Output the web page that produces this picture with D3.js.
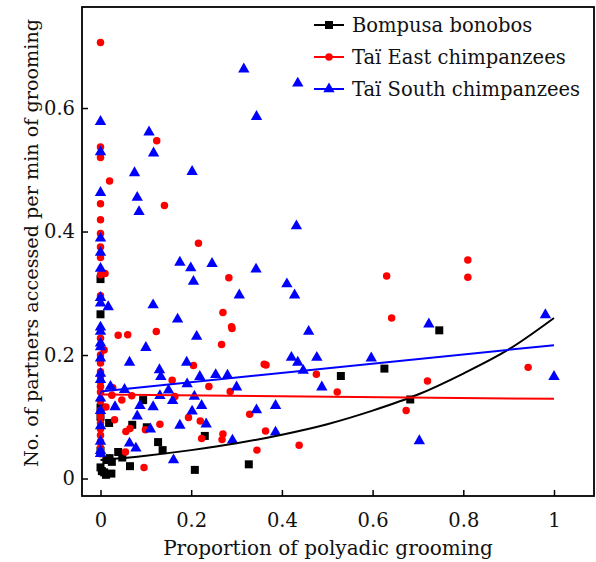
<!DOCTYPE html>
<html><head><meta charset="utf-8">
<script src="https://cdn.jsdelivr.net/npm/d3@7"></script>
<style>body{margin:0;background:#fff}svg{display:block}</style>
</head><body>
<svg id="c" width="596" height="562"></svg>
<script>
const xTicks = [0, 0.2, 0.4, 0.6, 0.8, 1];
const yTicks = [0, 0.2, 0.4, 0.6];
const seriesNames = ["Bompusa bonobos", "Taï East chimpanzees", "Taï South chimpanzees"];

const bonoboX = [0,0,0.747,0.626,0.530,0.683,0.327,0.208,0.230,0.127,0.137,0.094,0.019,0.070,0.102,0.065,0.039,0.048,0.020,0.025,0.013,0,0.008,0.024,0.012,0,0,0,0.003];
const bonoboY = [0.323,0.266,0.240,0.178,0.166,0.128,0.023,0.014,0.069,0.059,0.046,0.127,0.090,0.087,0.083,0.020,0.043,0.034,0.033,0.027,0.030,0.018,0.010,0.008,0.006,0.115,0.100,0.045,0.012];

const eastX = [0,0,0,0,0,0,0,0,0.010,0,0,0.008,0,0,0,0,0,0,0,0,0,0,0,0,0,0,0,0,0,
  0.020,0.124,0.141,0.216,0.039,0.060,0.123,0.205,0.027,0.025,0.047,0.069,0.012,0.031,0.158,0.239,0.164,0.194,0.220,0.131,0.099,0.056,0.065,0.223,0.055,0.096,
  0.283,0.270,0.289,0.290,0.267,0.361,0.365,0.476,0.286,0.522,0.329,0.270,0.268,0.364,0.438,0.345,0.631,0.810,0.810,0.642,0.721,0.674,0.943];
const eastY = [0.706,0.537,0.520,0.445,0.419,0.397,0.375,0.358,0.332,0.296,0.227,0.208,0.200,0.187,0.173,0.165,0.157,0.149,0.140,0.125,0.110,0.100,0.090,0.080,0.070,0.060,0.050,0.040,0.330,
  0.482,0.547,0.442,0.381,0.232,0.233,0.238,0.183,0.147,0.135,0.127,0.134,0.116,0.095,0.159,0.149,0.133,0.099,0.093,0.088,0.079,0.076,0.081,0.065,0.043,0.018,
  0.325,0.269,0.246,0.243,0.217,0.185,0.184,0.169,0.141,0.140,0.104,0.072,0.063,0.077,0.054,0.046,0.328,0.354,0.326,0.260,0.158,0.110,0.180];

const southX = [0,0,0,0,0,0,0,0,0,0,0,0,0,0,0,0,0,0,0,0,0,
  0.107,0.117,0.075,0.202,0.081,0.085,0.316,0.435,0.344,0.432,0.175,0.199,0.246,0.205,0.017,0.116,0.170,0.212,0.100,0.064,0.190,0.130,0.133,0.022,0.053,0.032,0.087,0.081,0.116,0.131,0.150,0.191,0.219,0.254,0.159,0.207,0.223,0.202,0.233,0.175,0.110,0.064,0.078,0.161,
  0.343,0.411,0.428,0.306,0.459,0.421,0.435,0.477,0.597,0.447,0.280,0.300,0.488,0.386,0.344,0.386,0.291,0.724,0.703,0.981,1.0];
const southY = [0.578,0.529,0.463,0.389,0.366,0.340,0.293,0.284,0.245,0.238,0.219,0.213,0.195,0.170,0.160,0.130,0.110,0.085,0.060,0.045,0.040,
  0.561,0.527,0.495,0.497,0.455,0.432,0.663,0.640,0.586,0.409,0.350,0.341,0.348,0.319,0.278,0.281,0.258,0.230,0.212,0.188,0.188,0.176,0.165,0.149,0.144,0.116,0.118,0.101,0.116,0.134,0.143,0.153,0.165,0.168,0.126,0.133,0.118,0.109,0.088,0.086,0.080,0.057,0.049,0.030,
  0.339,0.315,0.297,0.297,0.238,0.196,0.188,0.196,0.195,0.175,0.167,0.148,0.148,0.118,0.111,0.075,0.062,0.250,0.061,0.265,0.165];

// fitted trend curves
const fitX = [0, 0.1, 0.2, 0.3, 0.4, 0.5, 0.6, 0.7, 0.8, 0.9, 1];
const bonoboFitY = [0.030, 0.037, 0.046, 0.057, 0.071, 0.088, 0.110, 0.136, 0.170, 0.209, 0.260];
const eastFitX = [0, 1];
const eastFitY = [0.136, 0.129];
const southFitX = [0, 1];
const southFitY = [0.141, 0.216];

const svg = d3.select("#c");
const L = 82, R = 594, T = 7, B = 496;
const x = d3.scaleLinear().domain([-0.0408, 1.0882]).range([L, R]);
const y = d3.scaleLinear().domain([-0.0283, 0.7636]).range([B, T]);
const FONT = "DejaVu Serif";
const FS = 19.5;

// axes
const xa = svg.append("g").attr("transform", `translate(0,${B})`)
  .call(d3.axisBottom(x).tickValues(xTicks).tickSize(-6).tickPadding(17).tickFormat(d => String(d)));
const ya = svg.append("g").attr("transform", `translate(${L},0)`)
  .call(d3.axisLeft(y).tickValues(yTicks).tickSize(-6).tickPadding(7).tickFormat(d => String(d)));
[xa, ya].forEach(g => {
  g.select(".domain").remove();
  g.selectAll(".tick line").attr("stroke", "#000").attr("stroke-width", 1.5);
  g.selectAll("text").attr("font-family", FONT).attr("font-size", FS).attr("fill", "#111");
});

// frame
svg.append("rect").attr("x", L).attr("y", T).attr("width", R - L).attr("height", B - T)
  .attr("fill", "none").attr("stroke", "#000").attr("stroke-width", 1.8);

const plot = svg.append("g");
const sq = d3.symbol().type(d3.symbolSquare).size(64);
const ci = d3.symbol().type(d3.symbolCircle).size(44);
const tri = d3.symbol().type(d3.symbolTriangle).size(56);

function drawPts(xs, ys, sym, col) {
  plot.append("g").selectAll("path").data(xs.map((v, i) => [v, ys[i]])).join("path")
    .attr("d", sym).attr("fill", col)
    .attr("transform", d => `translate(${x(d[0])},${y(d[1])})`);
}
drawPts(bonoboX, bonoboY, sq, "#000");
drawPts(eastX, eastY, ci, "#ff0000");
drawPts(southX, southY, tri, "#0000ff");

const line = d3.line().x(d => x(d[0])).y(d => y(d[1]));
function drawLine(xs, ys, col, curve) {
  plot.append("path").datum(xs.map((v, i) => [v, ys[i]]))
    .attr("d", line.curve(curve || d3.curveLinear)).attr("fill", "none")
    .attr("stroke", col).attr("stroke-width", 2);
}
drawLine(fitX, bonoboFitY, "#000", d3.curveMonotoneX);
drawLine(eastFitX, eastFitY, "#ff0000");
drawLine(southFitX, southFitY, "#0000ff");

// legend
const cols = ["#000", "#ff0000", "#0000ff"];
const syms = [sq, ci, tri];
const lg = svg.append("g");
seriesNames.forEach((n, i) => {
  const cy = 25 + i * 32;
  lg.append("line").attr("x1", 314).attr("x2", 344).attr("y1", cy).attr("y2", cy)
    .attr("stroke", cols[i]).attr("stroke-width", 2);
  lg.append("path").attr("d", syms[i]).attr("fill", cols[i]).attr("transform", `translate(329,${cy})`);
  lg.append("text").attr("x", 352).attr("y", cy + 7).text(n)
    .attr("font-family", FONT).attr("font-size", FS).attr("fill", "#111");
});

// axis titles
svg.append("text").attr("x", 328).attr("y", 555).attr("text-anchor", "middle")
  .attr("font-family", FONT).attr("font-size", 20).attr("fill", "#111")
  .text("Proportion of polyadic grooming");
svg.append("text").attr("transform", "translate(38,243) rotate(-90)").attr("text-anchor", "middle")
  .attr("font-family", FONT).attr("font-size", 19.2).attr("fill", "#111")
  .text("No. of partners accessed per min of grooming");
</script>
</body></html>
